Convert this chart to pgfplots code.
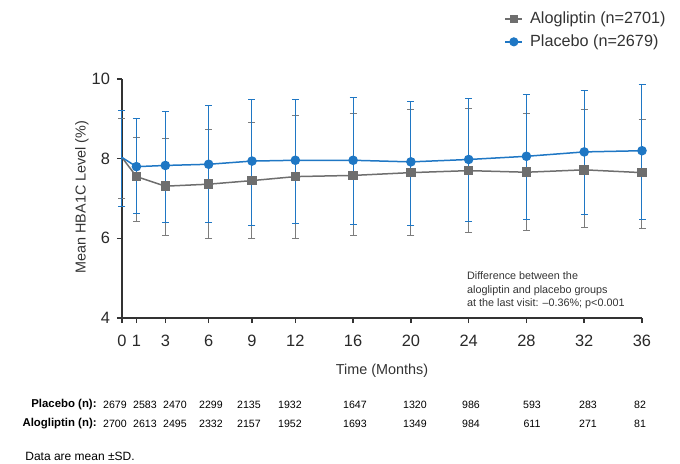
\documentclass[border=0pt]{standalone}
\usepackage{fontspec}
\setmainfont{Liberation Sans}
\usepackage{pgfplots}
\pgfplotsset{compat=1.18}
\usepackage{pgfplotstable}

\definecolor{pblue}{HTML}{1F77C4}
\definecolor{agray}{HTML}{6E6E6E}
\definecolor{axgray}{HTML}{333333}

% month  mean  +SD  -SD
\pgfplotstableread{
x  y     ep    em
0  8.03  0.97  1.03
1  7.55  0.98  1.13
3  7.31  1.20  1.24
6  7.36  1.38  1.37
9  7.45  1.46  1.46
12 7.55  1.54  1.55
16 7.58  1.56  1.52
20 7.65  1.59  1.59
24 7.70  1.56  1.55
28 7.66  1.48  1.46
32 7.72  1.52  1.44
36 7.65  1.34  1.40
}\alotab

\pgfplotstableread{
x  y     ep    em
0  8.03  1.17  1.23
1  7.80  1.21  1.17
3  7.83  1.35  1.44
6  7.86  1.48  1.47
9  7.94  1.55  1.62
12 7.96  1.53  1.59
16 7.96  1.58  1.61
20 7.92  1.51  1.60
24 7.98  1.53  1.56
28 8.06  1.56  1.59
32 8.17  1.55  1.57
36 8.20  1.65  1.73
}\platab

\begin{document}
\begin{tikzpicture}
\useasboundingbox (-61pt,-72.5pt) rectangle (279pt,159pt);
\begin{axis}[
    at={(0,0)}, anchor=south west,
    scale only axis,
    width=260pt, height=119.5pt,
    xmin=0, xmax=36, ymin=4, ymax=10,
    axis x line*=bottom, axis y line*=left,
    axis line style={axgray, line width=0.75pt},
    xtick={0,1,3,6,9,12,16,20,24,28,32,36},
    ytick={4,6,8,10},
    tick align=outside,
    major tick length=2.5pt,
    tick style={axgray, line width=0.75pt},
    /pgf/number format/assume math mode=true,
    ticklabel style={font=\fontsize{8.2}{9}\selectfont, text=axgray!80!black},
    xticklabel style={yshift=-2.5pt},
    xlabel={Time (Months)},
    ylabel={Mean HBA1C Level (\%)},
    label style={font=\fontsize{7.2}{8}\selectfont, text=axgray},
    xlabel style={at={(axis description cs:0.5,-0.2226)}, anchor=center},
    ylabel style={at={(axis description cs:-0.0769,0.506)}, anchor=center, rotate=0},
    clip=false,
    legend cell align=left,
    legend style={draw=none, fill=none, at={(axis description cs:0.735,1.30)}, anchor=north west,
        font=\fontsize{8.1}{9.5}\selectfont, text=axgray, row sep=0pt,
        inner sep=0pt},
    legend image code/.code={
        \path (10pt,0pt);
        \draw[#1, mark repeat=2, mark phase=2] plot coordinates {(0pt,0pt) (4.25pt,0pt) (8.5pt,0pt)};
    },
]
\addlegendimage{agray, line width=0.75pt, mark=square*, mark size=1.8pt, mark options={solid, fill=agray, draw=agray}}
\addlegendentry{Alogliptin (n=2701)}
\addlegendimage{pblue, line width=0.75pt, mark=*, mark size=1.9pt, mark options={solid, fill=pblue, draw=pblue}}
\addlegendentry{Placebo (n=2679)}

\addplot[forget plot, agray, line width=0.75pt, mark=square*, mark size=2pt,
    mark options={solid, fill=agray, draw=agray},
    mark indices={2,...,12},
    error bars/.cd, y dir=both, y explicit,
    error bar style={agray!90, line width=0.5pt},
    error mark options={rotate=90, mark size=1.75pt, line width=0.5pt, agray!90}]
    table[x=x, y=y, y error plus=ep, y error minus=em] {\alotab};

\addplot[forget plot, pblue, line width=0.75pt, mark=*, mark size=2pt,
    mark options={solid, fill=pblue, draw=pblue},
    mark indices={2,...,12},
    error bars/.cd, y dir=both, y explicit,
    error bar style={pblue, line width=0.5pt},
    error mark options={rotate=90, mark size=1.75pt, line width=0.5pt, pblue}]
    table[x=x, y=y, y error plus=ep, y error minus=em] {\platab};

\node[anchor=north west, align=left, font=\fontsize{5.4}{6.75}\selectfont, text=axgray, inner sep=0pt]
    at (axis description cs:0.663,0.195)
    {Difference between the\\alogliptin and placebo groups\\at the last visit: \textendash0.36\%; p<0.001};
\end{axis}

% numbers at risk
\begin{scope}[every node/.style={font=\fontsize{5.3}{6}\selectfont, text=black, inner sep=0pt, anchor=center}]
\node[anchor=east, font=\fontsize{5.7}{6}\selectfont\bfseries] at (-12.5pt,-43.5pt) {Placebo (n):};
\node[anchor=east, font=\fontsize{5.7}{6}\selectfont\bfseries] at (-12.5pt,-53pt) {Alogliptin (n):};
\foreach \px/\a/\b in {115/2679/2700, 145/2583/2613, 175/2470/2495, 211/2299/2332,
    249/2135/2157, 290/1932/1952, 355/1647/1693, 415/1320/1349, 471/986/984,
    532/593/611, 588/283/271, 640/82/81} {
  \node at ({(\px-122)*0.5pt},-43.5pt) {\a};
  \node at ({(\px-122)*0.5pt},-53pt) {\b};
}
\node[anchor=west, font=\fontsize{6}{7}\selectfont] at (-48.5pt,-69pt) {Data are mean \textpm SD.};
\end{scope}
\end{tikzpicture}
\end{document}
